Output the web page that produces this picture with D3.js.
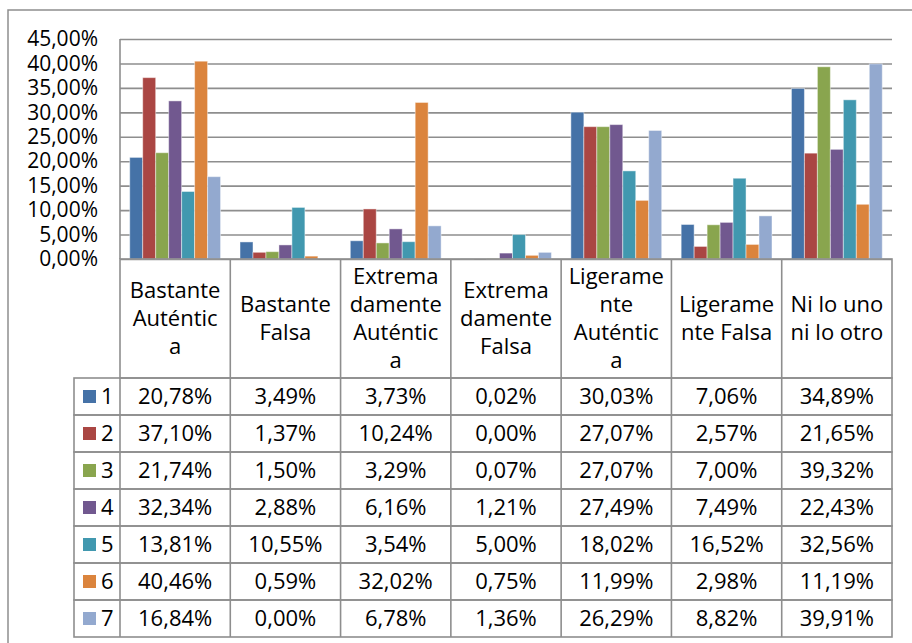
<!DOCTYPE html>
<html>
<head>
<meta charset="utf-8">
<script src="https://cdn.jsdelivr.net/npm/d3@7/dist/d3.min.js"></script>
<style>
  html, body { margin: 0; padding: 0; background: #fff; }
  svg { display: block; font-family: "Open Sans", "DejaVu Sans", sans-serif; }
</style>
</head>
<body>
<svg id="chart" width="912" height="643"></svg>
<script>
// Categories with the line breaks used in the table header
const categories = [
  "Bastante Auténtica", "Bastante Falsa", "Extremadamente Auténtica",
  "Extremadamente Falsa", "Ligeramente Auténtica", "Ligeramente Falsa",
  "Ni lo uno ni lo otro"
];
const categoryLines = [
  ["Bastante", "Auténtic", "a"],
  ["Bastante", "Falsa"],
  ["Extrema", "damente", "Auténtic", "a"],
  ["Extrema", "damente", "Falsa"],
  ["Ligerame", "nte", "Auténtic", "a"],
  ["Ligerame", "nte Falsa"],
  ["Ni lo uno", "ni lo otro"]
];
const seriesNames = ["1", "2", "3", "4", "5", "6", "7"];
const seriesColors = ["#4572A7", "#AA4643", "#89A54E", "#71588F", "#4198AF", "#DB843D", "#93A9CF"];

// Percent values, one array per series, in category order
const s1 = [20.78, 3.49, 3.73, 0.02, 30.03, 7.06, 34.89];
const s2 = [37.10, 1.37, 10.24, 0.00, 27.07, 2.57, 21.65];
const s3 = [21.74, 1.50, 3.29, 0.07, 27.07, 7.00, 39.32];
const s4 = [32.34, 2.88, 6.16, 1.21, 27.49, 7.49, 22.43];
const s5 = [13.81, 10.55, 3.54, 5.00, 18.02, 16.52, 32.56];
const s6 = [40.46, 0.59, 32.02, 0.75, 11.99, 2.98, 11.19];
const s7 = [16.84, 0.00, 6.78, 1.36, 26.29, 8.82, 39.91];
const seriesValues = [s1, s2, s3, s4, s5, s6, s7];

const yTicks = [0, 5, 10, 15, 20, 25, 30, 35, 40, 45];

const locale = d3.formatLocale({ decimal: ",", thousands: ".", grouping: [3], currency: ["", " €"] });
const pct = v => locale.format(".2f")(v) + "%";

const svg = d3.select("#chart");
const gridColor = "#8e8e8e";
const fontSize = 22;

// Plot geometry
const plot = { left: 120, right: 892, top: 39, bottom: 259 };
const headerBottom = 378;
const tableBottom = 637;
const legendLeft = 74;

const x = d3.scaleBand().domain(categories).range([plot.left, plot.right]).padding(0);
const y = d3.scaleLinear().domain([0, 45]).range([plot.bottom, plot.top]);
const catW = x.bandwidth();
const barW = catW / 8.5;           // gap width 150%
const inner = d3.scaleBand().domain(seriesNames)
  .range([0.75 * barW, 0.75 * barW + 7 * barW]).padding(0);

// Outer chart frame
svg.append("path")
  .attr("d", "M8,643 L8,10 L912,10")
  .attr("fill", "none").attr("stroke", gridColor).attr("stroke-width", 1.5);

// Gridlines and value axis
const yAxis = d3.axisLeft(y).tickValues(yTicks).tickFormat(pct).tickSize(-(plot.right - plot.left)).tickPadding(22);
const gy = svg.append("g").attr("transform", `translate(${plot.left},0)`).call(yAxis);
gy.select(".domain").remove();
gy.selectAll(".tick line").attr("stroke", gridColor).attr("stroke-width", 1.6);
gy.selectAll(".tick text")
  .attr("fill", "#000").attr("font-size", 21).attr("font-family", "Open Sans, sans-serif")
  .attr("x", -22);
svg.append("line")
  .attr("x1", plot.left).attr("x2", plot.left).attr("y1", plot.top).attr("y2", plot.bottom)
  .attr("stroke", gridColor).attr("stroke-width", 1.6);

// Bars
const groups = svg.append("g").selectAll("g")
  .data(seriesValues).join("g")
  .attr("fill", (d, i) => seriesColors[i]);
groups.selectAll("rect")
  .data((vals, si) => vals.map((v, ci) => ({ v, ci, si })))
  .join("rect")
  .attr("x", d => x(categories[d.ci]) + inner(seriesNames[d.si]))
  .attr("width", inner.bandwidth())
  .attr("y", d => y(d.v))
  .attr("height", d => y(0) - y(d.v))
  .attr("stroke", "rgba(255,255,255,0.45)")
  .attr("stroke-width", 1);

// Data table
const tbl = svg.append("g").attr("stroke", gridColor).attr("stroke-width", 1.6).attr("fill", "none");
const rowH = (tableBottom - headerBottom) / seriesNames.length;
// header block
tbl.append("rect").attr("x", plot.left).attr("y", plot.bottom)
  .attr("width", plot.right - plot.left).attr("height", headerBottom - plot.bottom);
// vertical category dividers
categories.forEach((c, i) => {
  if (i === 0) return;
  tbl.append("line").attr("x1", x(c)).attr("x2", x(c)).attr("y1", plot.bottom).attr("y2", tableBottom);
});
// data rows
seriesNames.forEach((s, i) => {
  tbl.append("rect").attr("x", legendLeft).attr("y", headerBottom + i * rowH)
    .attr("width", plot.right - legendLeft).attr("height", rowH);
});
tbl.append("line").attr("x1", plot.left).attr("x2", plot.left).attr("y1", headerBottom).attr("y2", tableBottom);

// header labels
const lineH = 28;
const headerMid = (plot.bottom + headerBottom) / 2;
categories.forEach((c, i) => {
  const lines = categoryLines[i];
  const t = svg.append("text")
    .attr("text-anchor", "middle").attr("font-size", fontSize).attr("fill", "#000");
  lines.forEach((ln, k) => {
    t.append("tspan")
      .attr("x", x(c) + catW / 2)
      .attr("y", headerMid + (k - (lines.length - 1) / 2) * lineH)
      .attr("dy", "0.36em")
      .text(ln);
  });
});

// rows: legend key, series label, values
seriesNames.forEach((s, si) => {
  const cy = headerBottom + (si + 0.5) * rowH;
  svg.append("rect").attr("x", 83).attr("y", cy - 6.5).attr("width", 13).attr("height", 13)
    .attr("fill", seriesColors[si]);
  svg.append("text").attr("x", 101).attr("y", cy).attr("dy", "0.36em")
    .attr("font-size", fontSize).attr("fill", "#000").text(s);
  seriesValues[si].forEach((v, ci) => {
    svg.append("text")
      .attr("x", x(categories[ci]) + catW / 2).attr("y", cy).attr("dy", "0.36em")
      .attr("text-anchor", "middle").attr("font-size", fontSize).attr("fill", "#000")
      .text(pct(v));
  });
});
</script>
</body>
</html>
